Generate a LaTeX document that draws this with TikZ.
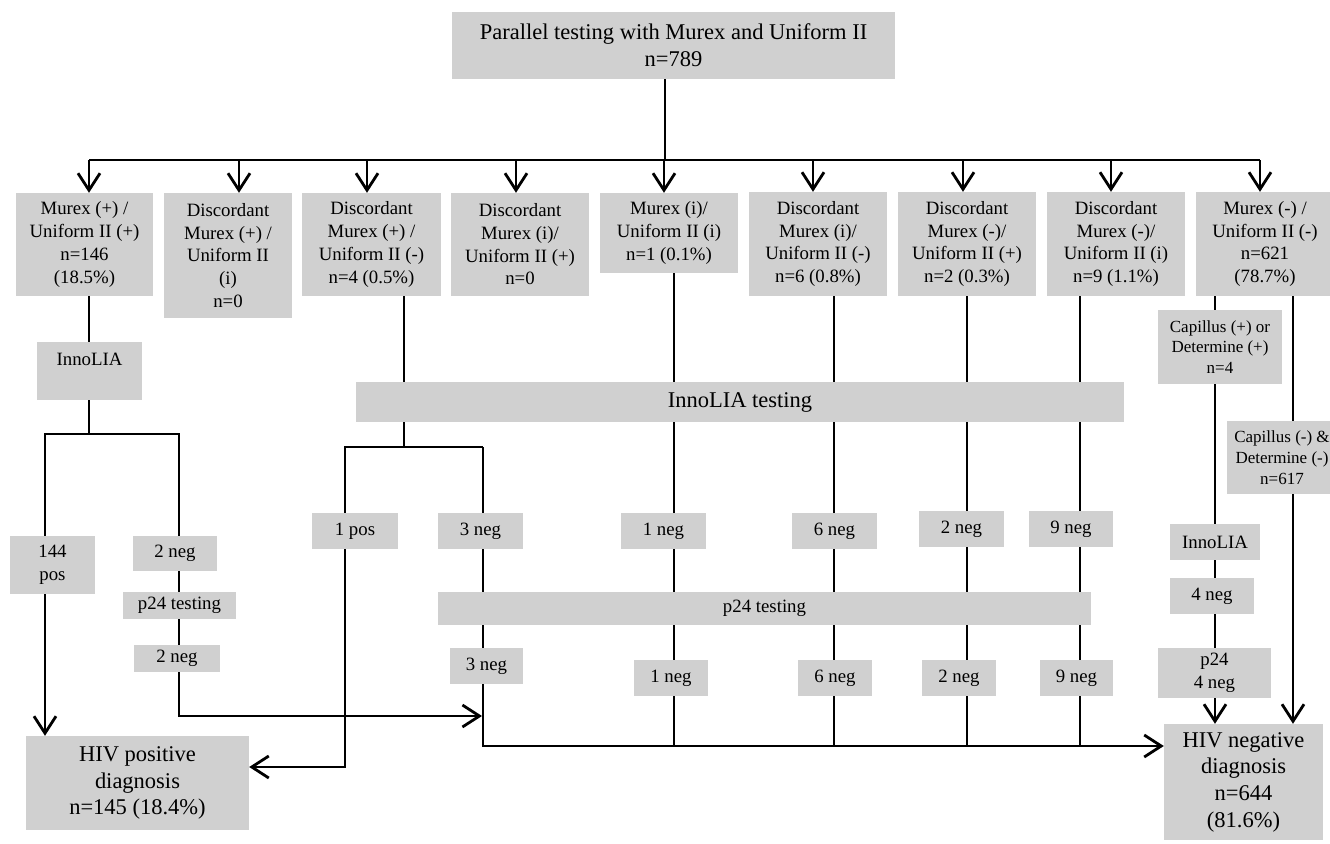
\documentclass[tikz,border=0pt]{standalone}
\usepackage{fontspec}
\setmainfont{Liberation Serif}
\usetikzlibrary{arrows.meta,backgrounds}
\definecolor{boxgray}{RGB}{208,208,208}
\begin{document}
\begin{tikzpicture}[x=1pt,y=-1pt,
  box/.style={fill=boxgray, inner sep=0pt, align=center, font=\fontsize{18.8}{22.7}\selectfont},
  big/.style={box, font=\fontsize{22.5}{26.7}\selectfont},
  small/.style={box, font=\fontsize{17}{20.7}\selectfont},
  conn/.style={line width=2.8pt},
  arr/.style={conn, -{Straight Barb[length=17pt,width=22pt]}}]
\useasboundingbox (0,0) rectangle (1330,843);

% title
\node[big, minimum width=443, minimum height=67] (title) at (673.5,45.5) {Parallel testing with Murex and Uniform II\\n=789};

% first row
\node[box, minimum width=137, minimum height=103] (b1) at (84.5,244.5) {Murex (+) /\\Uniform II (+)\\n=146\\(18.5\%)};
\node[box, minimum width=128, minimum height=125] (b2) at (228,255.5) {Discordant\\Murex (+) /\\Uniform II\\(i)\\n=0};
\node[box, minimum width=139, minimum height=103] (b3) at (371.5,244.5) {Discordant\\Murex (+) /\\Uniform II (-)\\n=4 (0.5\%)};
\node[box, minimum width=138, minimum height=103] (b4) at (520,244.5) {Discordant\\Murex (i)/\\Uniform II (+)\\n=0};
\node[box, minimum width=138, minimum height=80] (b5) at (669,233) {Murex (i)/\\Uniform II (i)\\n=1 (0.1\%)};
\node[box, minimum width=138, minimum height=104] (b6) at (818,244) {Discordant\\Murex (i)/\\Uniform II (-)\\n=6 (0.8\%)};
\node[box, minimum width=138, minimum height=104] (b7) at (967,244) {Discordant\\Murex (-)/\\Uniform II (+)\\n=2 (0.3\%)};
\node[box, minimum width=138, minimum height=104] (b8) at (1116,244) {Discordant\\Murex (-)/\\Uniform II (i)\\n=9 (1.1\%)};
\node[box, minimum width=138, minimum height=104] (b9) at (1265,244) {Murex (-) /\\Uniform II (-)\\n=621\\(78.7\%)};

% left branch
\node[box, minimum width=105, minimum height=58] (inno1) at (89.5,371) {InnoLIA\\\mbox{}};
\node[box, minimum width=85, minimum height=58] (pos144) at (52.5,565) {144\\pos};
\node[box, minimum width=84, minimum height=35] (neg2a) at (175,553.5) {2 neg};
\node[box, minimum width=113, minimum height=27] (p24a) at (179.5,605.5) {p24 testing};
\node[box, minimum width=86, minimum height=27] (neg2b) at (177,658.5) {2 neg};

% bands
\node[big, minimum width=768, minimum height=40] (innoband) at (740,402) {InnoLIA testing};
\node[box, minimum width=653, minimum height=33] (p24band) at (764.5,608.5) {p24 testing};

% result boxes, upper row
\node[box, minimum width=86, minimum height=36] (pos1) at (355,531) {1 pos};
\node[box, minimum width=85, minimum height=36] (neg3a) at (480.5,531) {3 neg};
\node[box, minimum width=85, minimum height=36] (neg1a) at (663.5,531) {1 neg};
\node[box, minimum width=85, minimum height=36] (neg6a) at (834.5,531) {6 neg};
\node[box, minimum width=85, minimum height=36] (neg2c) at (961.5,529) {2 neg};
\node[box, minimum width=84, minimum height=36] (neg9a) at (1071,529) {9 neg};

% result boxes, lower row
\node[box, minimum width=73, minimum height=36] (neg3b) at (486.5,666) {3 neg};
\node[box, minimum width=74, minimum height=36] (neg1b) at (671,678) {1 neg};
\node[box, minimum width=74, minimum height=36] (neg6b) at (835,678) {6 neg};
\node[box, minimum width=74, minimum height=36] (neg2d) at (959,678) {2 neg};
\node[box, minimum width=73, minimum height=36] (neg9b) at (1076.5,678) {9 neg};

% right branch
\node[small, minimum width=124, minimum height=74] (capplus) at (1220,347) {Capillus (+) or\\Determine (+)\\n=4};
\node[small, minimum width=110, minimum height=73] (capminus) at (1282,457.5) {Capillus (-) \&\\Determine (-)\\n=617};
\node[box, minimum width=90, minimum height=36] (inno2) at (1215,542) {InnoLIA};
\node[box, minimum width=84, minimum height=36] (neg4) at (1212,596) {4 neg};
\node[box, minimum width=113, minimum height=50] (p24b) at (1214.5,673) {p24\\4 neg};

% diagnoses
\node[big, minimum width=223, minimum height=94] (hivpos) at (137.5,783) {HIV positive\\diagnosis\\n=145 (18.4\%)};
\node[big, minimum width=159, minimum height=116] (hivneg) at (1243.5,782) {HIV negative\\diagnosis\\n=644\\(81.6\%)};

% coordinates
\coordinate (tb) at (665,160);
\coordinate (t1) at (89,160);
\coordinate (t2) at (239,160);
\coordinate (t3) at (367,160);
\coordinate (t4) at (516,160);
\coordinate (t5) at (664,160);
\coordinate (t6) at (813,160);
\coordinate (t7) at (963,160);
\coordinate (t8) at (1111,160);
\coordinate (t9) at (1260,160);
\coordinate (s1) at (89,434);
\coordinate (sL) at (45,434);
\coordinate (sR) at (179,434);
\coordinate (k) at (179,716);
\coordinate (s3) at (404,447);
\coordinate (s3L) at (345,447);
\coordinate (s3R) at (483,447);
\coordinate (m3) at (483,746);
\coordinate (x5) at (674,746);
\coordinate (x6) at (834,746);
\coordinate (x7) at (967,746);
\coordinate (x8) at (1080,746);
\coordinate (r1) at (1215,300);
\coordinate (r2) at (1293,300);

\begin{scope}[on background layer]
  \draw[conn] (tb |- title.south) -- (tb);
  \draw[conn] (t1) -- (t9);
  \foreach \i in {1,...,9} {
    \draw[arr] (t\i) -- (t\i |- b\i.north);
  }
  % left branch
  \draw[conn] (b1.south -| s1) -- (s1);
  \draw[conn] (pos144.north -| sL) -- (sL) -- (sR) -- (neg2a.north -| sR);
  \draw[arr] (pos144.south -| sL) -- (hivpos.north -| sL);
  \draw[arr, shorten >=1pt] (neg2a.south -| sR) -- (k) -- (k -| m3);
  % middle branch
  \draw[conn] (b3.south -| s3) -- (s3);
  \draw[arr] (s3R) -- (s3L) -- ([yshift=16pt]hivpos.east -| s3L) -- ([yshift=16pt]hivpos.east);
  \draw[arr] (s3R) -- (m3) -- ([yshift=36pt]hivneg.west);
  \draw[conn] (b5.south -| x5) -- (x5);
  \draw[conn] (b6.south -| x6) -- (x6);
  \draw[conn] (b7.south -| x7) -- (x7);
  \draw[conn] (b8.south -| x8) -- (x8);
  % right branch
  \draw[arr] (b9.south -| r1) -- (hivneg.north -| r1);
  \draw[arr] (b9.south -| r2) -- (hivneg.north -| r2);
\end{scope}
\end{tikzpicture}
\end{document}
